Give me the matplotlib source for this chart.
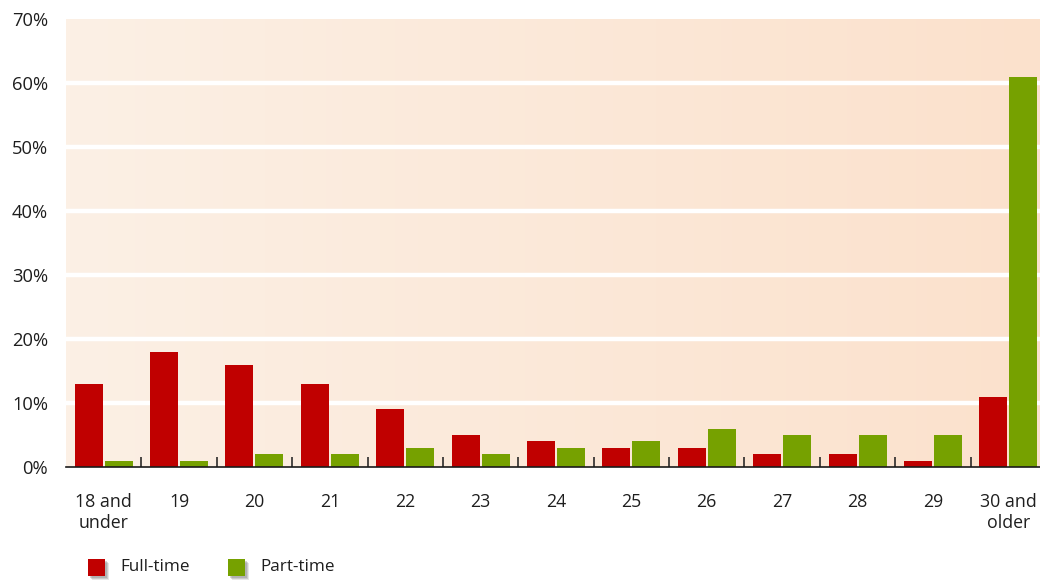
import matplotlib
matplotlib.use("Agg")
import matplotlib.pyplot as plt
import numpy as np
from matplotlib.patches import Rectangle
from matplotlib.colors import LinearSegmentedColormap
from matplotlib.ticker import FixedLocator, PercentFormatter

categories = ["18 and\nunder", "19", "20", "21", "22", "23", "24", "25", "26", "27", "28", "29", "30 and\nolder"]
full_time = [13, 18, 16, 13, 9, 5, 4, 3, 3, 2, 2, 1, 11]
part_time = [1, 1, 2, 2, 3, 2, 3, 4, 6, 5, 5, 5, 61]
series_names = ["Full-time", "Part-time"]
yticks = [0, 10, 20, 30, 40, 50, 60, 70]

RED = "#C00000"
GREEN = "#76A100"
TXT = "#1e1e1e"

plt.rcParams['font.family'] = ['Open Sans', 'DejaVu Sans']

W, H = 1040, 581
fig = plt.figure(figsize=(W / 100, H / 100), dpi=100)
ax = fig.add_axes([66 / W, 1 - 467 / H, (1046 - 66) / W, (467 - 19) / H])

n = len(categories)
x = np.arange(n)
bw = 0.372
gap = 0.013
ax.bar(x - bw / 2 - gap, full_time, width=bw, color=RED, zorder=3)
ax.bar(x + bw / 2 + gap, part_time, width=bw, color=GREEN, zorder=3)

ax.set_xlim(-0.5, n - 0.5)
ax.set_ylim(0, 70)

# gradient background
cmap = LinearSegmentedColormap.from_list("bg", ["#FCF0E5", "#FBE1CC"])
grad = np.linspace(0, 1, 256).reshape(1, -1)
ax.imshow(grad, cmap=cmap, aspect='auto', extent=[-0.5, n - 0.5, 0, 70], zorder=0)

for s in ["top", "right", "left"]:
    ax.spines[s].set_visible(False)
ax.spines["bottom"].set_color("#1a1a1a")
ax.spines["bottom"].set_linewidth(1.2)
ax.spines["bottom"].set_zorder(4)

ax.yaxis.set_major_locator(FixedLocator(yticks))
ax.yaxis.set_major_formatter(PercentFormatter(decimals=0))
ax.tick_params(axis='y', length=0, pad=13, labelsize=13.2, labelcolor=TXT)
for yv in yticks[1:-1]:
    ax.axhline(yv, color="white", lw=3.2, zorder=1)

ax.set_xticks(x)
ax.set_xticklabels(categories)
ax.tick_params(axis='x', which='major', length=0, pad=19, labelsize=12.8, labelcolor=TXT)
ax.set_xticks(np.arange(0.5, n - 1, 1), minor=True)
ax.tick_params(axis='x', which='minor', direction='in', length=7, width=1.1, color="#1a1a1a")
for lab in ax.get_xticklabels():
    lab.set_linespacing(1.2)

# legend
def legend_item(px, label, color, tx):
    sx, sy, s = px, 559, 17
    for off, a in [(4, 0.18), (3, 0.25), (2, 0.3)]:
        fig.add_artist(Rectangle(((sx + off) / W, 1 - (sy + s + off) / H), s / W, s / H,
                                 transform=fig.transFigure, color="#7a7a7a", alpha=a, lw=0))
    fig.add_artist(Rectangle((sx / W, 1 - (sy + s) / H), s / W, s / H,
                             transform=fig.transFigure, color=color, lw=0))
    fig.text(tx / W, 1 - 567 / H, label, fontsize=12.3, color=TXT, va='center', ha='left')

legend_item(88, series_names[0], RED, 120)
legend_item(228, series_names[1], GREEN, 260)

fig.savefig("out.png", dpi=100)
